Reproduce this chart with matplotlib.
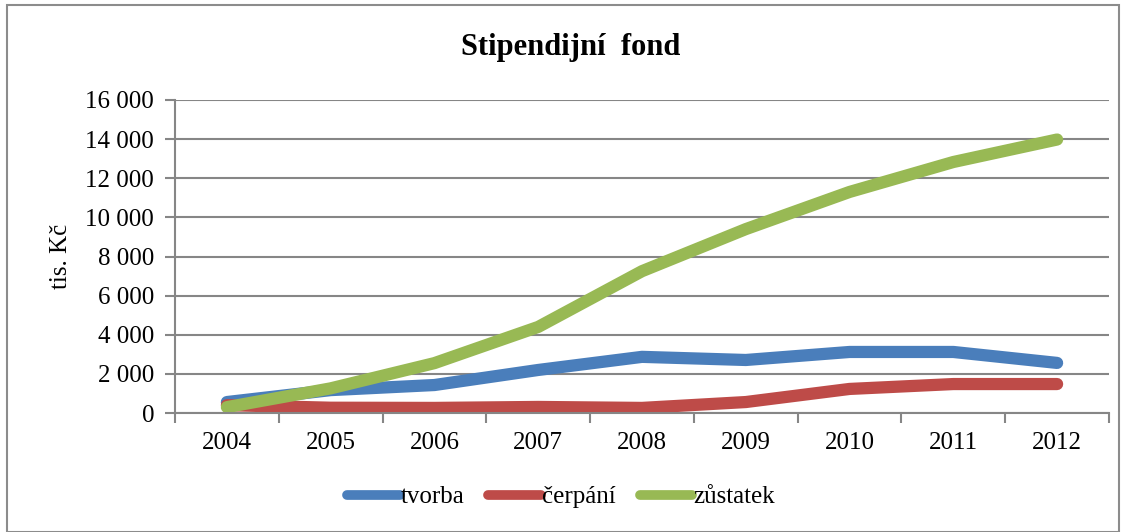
import matplotlib.pyplot as plt
from matplotlib.ticker import FuncFormatter, FixedLocator
from matplotlib.patches import Rectangle

years = ["2004", "2005", "2006", "2007", "2008", "2009", "2010", "2011", "2012"]
tvorba = [560, 1170, 1430, 2200, 2870, 2710, 3120, 3120, 2560]
cerpani = [400, 270, 260, 310, 260, 560, 1230, 1480, 1480]
zustatek = [300, 1260, 2550, 4400, 7250, 9400, 11300, 12830, 13980]

plt.rcParams['font.family'] = ['Liberation Serif', 'DejaVu Serif']

fig = plt.figure(figsize=(11.29, 5.32), dpi=100)
ax = fig.add_axes([175/1129, 1-413/532, (1109-175)/1129, (413-100)/532])

# chart border
fig.patches.append(Rectangle((7/1129, 0), (1119-7)/1129, 1-5/532, transform=fig.transFigure,
                             fill=False, edgecolor='#8c8c8c', linewidth=1.5))

x = range(len(years))
ax.plot(x, tvorba, color='#4A7EBB', lw=8.8, solid_capstyle='round', solid_joinstyle='round', label='tvorba')
ax.plot(x, cerpani, color='#BE4B48', lw=8.8, solid_capstyle='round', solid_joinstyle='round', label='čerpání')
ax.plot(x, zustatek, color='#98B954', lw=8.8, solid_capstyle='round', solid_joinstyle='round', label='zůstatek')

ax.set_xlim(-0.5, len(years) - 0.5)
ax.set_ylim(0, 16000)
ax.set_yticks(range(0, 16001, 2000))
ax.yaxis.set_major_formatter(FuncFormatter(lambda v, p: f"{int(v):,}".replace(",", " ")))
ax.set_xticks(list(x))
ax.set_xticklabels(years)
ax.xaxis.set_minor_locator(FixedLocator([i - 0.5 for i in range(len(years) + 1)]))
ax.tick_params(axis='x', which='major', length=0, pad=14, labelsize=18)
ax.tick_params(axis='x', which='minor', length=7, width=1.5, color='#868686')
ax.tick_params(axis='y', length=7, width=1.5, color='#868686', labelsize=18, pad=8)

ax.grid(axis='y', color='#868686', lw=1.5)
ax.set_axisbelow(True)
for s in ['top', 'right']:
    ax.spines[s].set_visible(False)
for s in ['left', 'bottom']:
    ax.spines[s].set_color('#868686')
    ax.spines[s].set_linewidth(1.5)

ax.set_ylabel("tis. Kč", fontsize=18, labelpad=10)
fig.text(571/1129, 1-48/532, "Stipendijní  fond", ha='center', va='center', fontsize=22, fontweight='bold')

leg = fig.legend(loc='center', bbox_to_anchor=(561/1129, 1-497/532), ncol=3, frameon=False,
                 fontsize=18, handlelength=2.1, handletextpad=0.05, columnspacing=0.95)
for h in leg.get_lines():
    h.set_linewidth(7)

fig.savefig("out.png", dpi=100)
